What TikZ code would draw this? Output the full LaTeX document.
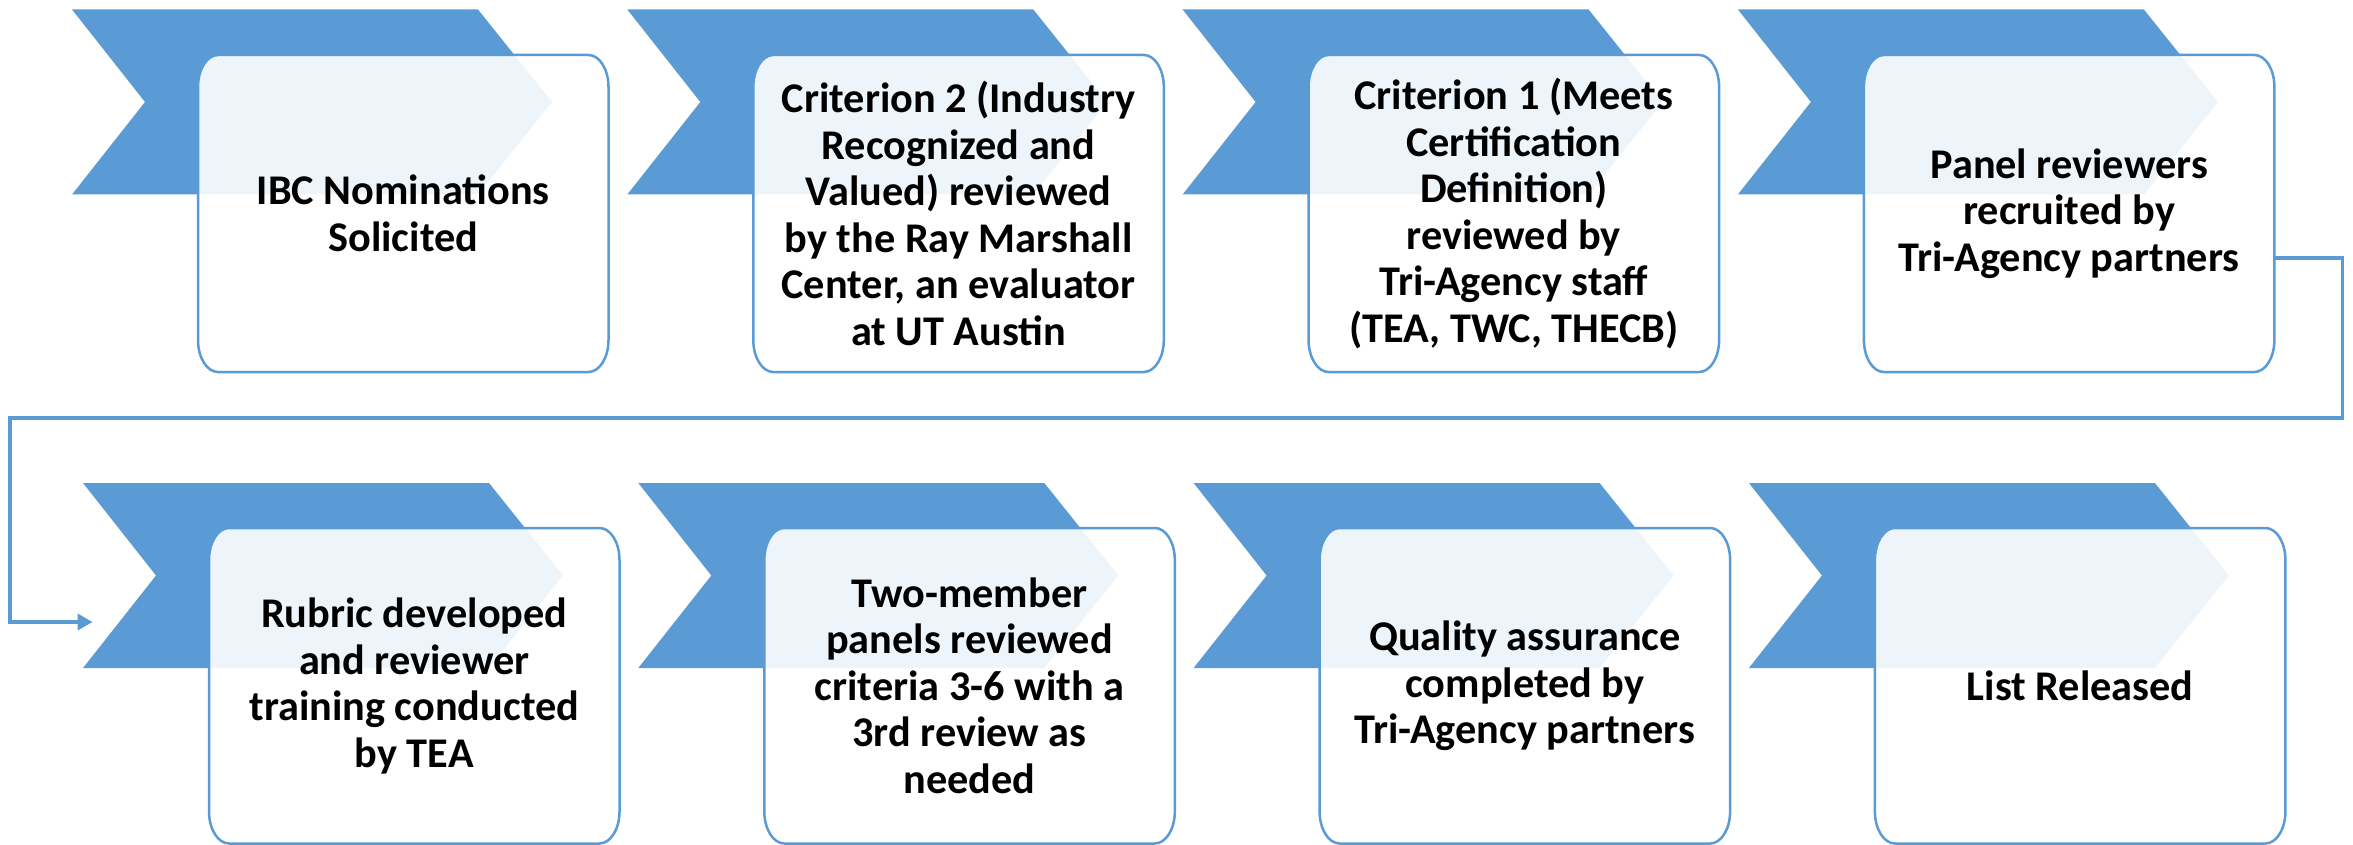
\documentclass[tikz,border=0pt]{standalone}
\usepackage{fontspec}
\setmainfont{Carlito}
\usetikzlibrary{calc,arrows.meta}
\definecolor{accent}{HTML}{5B9BD5}
\tikzset{
  chev/.style={fill=accent},
  boxst/.style={fill=white, fill opacity=0.9, draw=accent, line width=2.5pt, draw opacity=1},
  txt/.style={inner sep=0pt, align=center, text=black, font=\fontsize{42.3}{46.5}\selectfont\bfseries},
  conn/.style={draw=accent, line width=3.5pt, -{Triangle[length=15pt,width=16pt]}}
}
% rounded box with elliptical corners: x1 y1 x2 y2
\newcommand\rbox[4]{%
  \path[boxst] ({#1+20},{#2}) -- ({#3-20},{#2})
    .. controls ({#3-9},{#2}) and ({#3},{#2+14.3}) .. ({#3},{#2+32})
    -- ({#3},{#4-32})
    .. controls ({#3},{#4-14.3}) and ({#3-9},{#4}) .. ({#3-20},{#4})
    -- ({#1+20},{#4})
    .. controls ({#1+9},{#4}) and ({#1},{#4-14.3}) .. ({#1},{#4-32})
    -- ({#1},{#2+32})
    .. controls ({#1},{#2+14.3}) and ({#1+9},{#2}) .. ({#1+20},{#2}) -- cycle;%
}
% name, chevron left x, chevron top y, box top, box bottom, text
\newcommand\procstep[6]{%
  \fill[chev] ({#2},{#3}) -- ++(406,0) -- ++(74,92.5) -- ++(-74,92.5) -- ++(-406,0) -- ++(73,-92.5) -- cycle;
  \rbox{#2+126}{#4}{#2+536.5}{#5}
  \node[txt, minimum width=410pt, minimum height=300pt] (#1) at ({#2+331.25},{(#4+#5)/2}) {#6};
}
\begin{document}
\begin{tikzpicture}[x=1pt,y=-1pt]
\fill[white] (0,0) rectangle (2353,845);
\useasboundingbox (0,0) rectangle (2353,845);

\procstep{s1}{72}{9.5}{55}{372}{IBC Nominations\\Solicited}
\procstep{s2}{627.3}{9.5}{55}{372}{Criterion 2 (Industry\\Recognized and\\Valued) reviewed\\by the Ray Marshall\\Center, an evaluator\\at UT Austin}
\procstep{s3}{1182.6}{9.5}{55}{372}{Criterion 1 (Meets\\Certification\\Definition)\\reviewed by\\Tri-Agency staff\\(TEA, TWC, THECB)}
\procstep{s4}{1737.9}{9.5}{55}{372}{Panel reviewers\\recruited by\\Tri-Agency partners}

\procstep{s5}{83}{483}{528}{843.5}{Rubric developed\\and reviewer\\training conducted\\by TEA}
\procstep{s6}{638.3}{483}{528}{843.5}{Two-member\\panels reviewed\\criteria 3-6 with a\\3rd review as\\needed}
\procstep{s7}{1193.6}{483}{528}{843.5}{Quality assurance\\completed by\\Tri-Agency partners}
\procstep{s8}{1748.9}{483}{528}{843.5}{List Released}

\coordinate (c4) at ($(s4.east)+(0,44.5)$);
\coordinate (e5) at ($(s5.west)+(-116.5,-63.75)$);
\draw[conn] (c4) -- ++(68,0) |- (10,418) |- (e5);
\end{tikzpicture}
\end{document}
